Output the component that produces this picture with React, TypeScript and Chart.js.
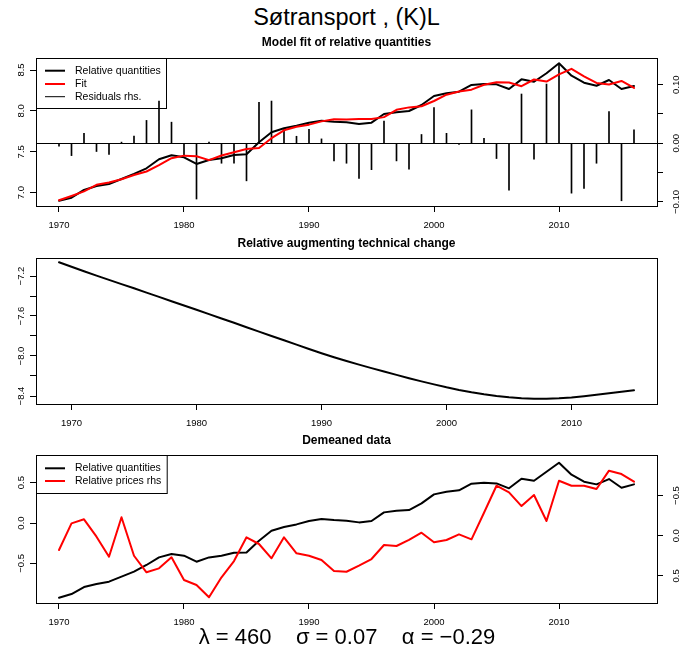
import React, { useEffect, useRef } from "react";
import { Chart, registerables } from "chart.js";
Chart.register(...registerables);

const FONT = '"Liberation Sans", Arial, Helvetica, sans-serif';

// ---------- data ----------
const years = [
  1970, 1971, 1972, 1973, 1974, 1975, 1976, 1977, 1978, 1979,
  1980, 1981, 1982, 1983, 1984, 1985, 1986, 1987, 1988, 1989,
  1990, 1991, 1992, 1993, 1994, 1995, 1996, 1997, 1998, 1999,
  2000, 2001, 2002, 2003, 2004, 2005, 2006, 2007, 2008, 2009,
  2010, 2011, 2012, 2013, 2014, 2015, 2016,
];
const relQuantities = [
  6.902, 6.939, 7.033, 7.082, 7.106, 7.167, 7.229, 7.298, 7.408, 7.457,
  7.433, 7.351, 7.4, 7.42, 7.461, 7.469, 7.616, 7.738, 7.787, 7.819,
  7.856, 7.88, 7.868, 7.86, 7.84, 7.856, 7.962, 7.983, 7.999, 8.072,
  8.182, 8.215, 8.235, 8.317, 8.329, 8.325, 8.268, 8.386, 8.357, 8.46,
  8.582, 8.43, 8.345, 8.308, 8.378, 8.268, 8.304,
];
const fitValues = [
  6.907, 6.96, 7.016, 7.096, 7.125, 7.165, 7.216, 7.259, 7.336, 7.421,
  7.453, 7.446, 7.398, 7.454, 7.495, 7.533, 7.546, 7.666, 7.763, 7.807,
  7.832, 7.872, 7.898, 7.894, 7.9, 7.901, 7.924, 8.013, 8.043, 8.057,
  8.121, 8.198, 8.237, 8.26, 8.32, 8.351, 8.348, 8.302, 8.384, 8.359,
  8.446, 8.515, 8.422, 8.342, 8.324, 8.366, 8.281,
];
const residuals = [
  -0.005, -0.021, 0.017, -0.014, -0.019, 0.002, 0.0125, 0.039, 0.072, 0.036,
  -0.02, -0.095, 0.002, -0.034, -0.034, -0.064, 0.07, 0.072, 0.024, 0.012,
  0.024, 0.0075, -0.03, -0.034, -0.06, -0.045, 0.038, -0.03, -0.044, 0.015,
  0.061, 0.017, -0.002, 0.057, 0.0085, -0.026, -0.08, 0.084, -0.027, 0.101,
  0.136, -0.085, -0.077, -0.034, 0.054, -0.098, 0.023,
];
const techYears = [
  1969, 1970, 1971, 1972, 1973, 1974, 1975, 1976, 1977, 1978, 1979,
  1980, 1981, 1982, 1983, 1984, 1985, 1986, 1987, 1988, 1989,
  1990, 1991, 1992, 1993, 1994, 1995, 1996, 1997, 1998, 1999,
  2000, 2001, 2002, 2003, 2004, 2005, 2006, 2007, 2008, 2009,
  2010, 2011, 2012, 2013, 2014, 2015,
];
const techChange = [
  -7.063, -7.108, -7.152, -7.196, -7.239, -7.281, -7.323, -7.366, -7.409, -7.452, -7.495,
  -7.538, -7.581, -7.625, -7.668, -7.712, -7.756, -7.8, -7.843, -7.886, -7.93,
  -7.972, -8.012, -8.05, -8.086, -8.121, -8.155, -8.189, -8.222, -8.254, -8.284,
  -8.313, -8.339, -8.362, -8.382, -8.399, -8.413, -8.423, -8.428, -8.428, -8.423,
  -8.414, -8.402, -8.388, -8.373, -8.358, -8.343,
];
const demeanedQuantities = [
  -0.926, -0.88, -0.793, -0.756, -0.727, -0.665, -0.603, -0.52, -0.426, -0.384,
  -0.405, -0.479, -0.426, -0.405, -0.368, -0.364, -0.219, -0.095, -0.05, -0.017,
  0.025, 0.05, 0.037, 0.029, 0.008, 0.025, 0.132, 0.153, 0.161, 0.244,
  0.355, 0.388, 0.405, 0.487, 0.5, 0.491, 0.43, 0.549, 0.524, 0.636,
  0.747, 0.599, 0.512, 0.479, 0.545, 0.437, 0.479,
];
const demeanedPrices = [
  0.178, -0.154, -0.204, 0.012, 0.261, -0.229, 0.249, 0.455, 0.406, 0.269,
  0.551, 0.613, 0.766, 0.517, 0.315, 0.02, 0.103, 0.281, 0.02, 0.219,
  0.249, 0.302, 0.439, 0.448, 0.373, 0.29, 0.116, 0.128, 0.053, -0.037,
  0.082, 0.053, -0.017, 0.045, -0.286, -0.622, -0.54, -0.369, -0.506, -0.183,
  -0.684, -0.622, -0.622, -0.581, -0.809, -0.767, -0.672,
];

// ---------- ticks ----------
const xTicks = [1970, 1980, 1990, 2000, 2010];
const xTickLabels = ["1970", "1980", "1990", "2000", "2010"];
const topLeftTicks = [7.0, 7.5, 8.0, 8.5];
const topLeftLabels = ["7.0", "7.5", "8.0", "8.5"];
const topRightTicks = [-0.1, -0.05, 0, 0.05, 0.1];
const topRightLabels = ["\u22120.10", "", "0.00", "", "0.10"];
const midTicks = [-8.4, -8.2, -8.0, -7.8, -7.6, -7.4, -7.2];
const midLabels = ["\u22128.4", "", "\u22128.0", "", "\u22127.6", "", "\u22127.2"];
const botTicks = [-0.5, 0, 0.5];
const botLeftLabels = ["\u22120.5", "0.0", "0.5"];
const botRightLabels = ["\u22120.5", "0.0", "0.5"];

const mainTitle = "Søtransport , (K)L";
const panelTitles = ["Model fit of relative quantities", "Relative augmenting technical change", "Demeaned data"];
const formulaText = "\u03bb = 460    \u03c3 = 0.07    \u03b1 = \u22120.29";

// ---------- helpers ----------
type LegendSpec = { w: number; h: number; rows: number[]; items: { label: string; color: string; width: number }[] };
type FrameSpec = {
  title: string;
  titleY: number;
  yLabels: { axis: string; cx: number }[];
  zero?: { axis: string; value: number };
  legend?: LegendSpec;
};

function makeFrame(spec: FrameSpec) {
  return {
    id: "rframe",
    beforeDatasetsDraw(chart: any) {
      const { ctx, chartArea: a } = chart;
      if (spec.zero) {
        const s = chart.scales[spec.zero.axis];
        const y = Math.round(s.getPixelForValue(spec.zero.value)) + 0.5;
        ctx.save();
        ctx.strokeStyle = "#000";
        ctx.lineWidth = 1;
        ctx.beginPath();
        ctx.moveTo(a.left, y);
        ctx.lineTo(a.right, y);
        ctx.stroke();
        ctx.restore();
      }
      if (spec.legend) {
        const L = spec.legend;
        const x0 = Math.round(a.left);
        const y0 = Math.round(a.top);
        ctx.save();
        ctx.fillStyle = "#fff";
        ctx.fillRect(x0, y0, L.w, L.h);
        ctx.strokeStyle = "#000";
        ctx.lineWidth = 1;
        ctx.strokeRect(x0 + 0.5, y0 + 0.5, L.w, L.h);
        L.items.forEach((it, i) => {
          const y = y0 + L.rows[i];
          ctx.strokeStyle = it.color;
          ctx.lineWidth = it.width;
          ctx.beginPath();
          ctx.moveTo(x0 + 9, y);
          ctx.lineTo(x0 + 29, y);
          ctx.stroke();
          ctx.fillStyle = "#000";
          ctx.font = `10.5px ${FONT}`;
          ctx.textAlign = "left";
          ctx.textBaseline = "middle";
          ctx.fillText(it.label, x0 + 39, y);
        });
        ctx.restore();
      }
    },
    afterDraw(chart: any) {
      const { ctx, chartArea: a } = chart;
      ctx.save();
      ctx.strokeStyle = "#000";
      ctx.lineWidth = 1;
      ctx.strokeRect(Math.round(a.left) + 0.5, Math.round(a.top) + 0.5, Math.round(a.right - a.left), Math.round(a.bottom - a.top));
      ctx.fillStyle = "#000";
      ctx.font = `9.5px ${FONT}`;
      ctx.textAlign = "center";
      ctx.textBaseline = "middle";
      spec.yLabels.forEach(({ axis, cx }) => {
        const s = chart.scales[axis];
        s.ticks.forEach((t: any) => {
          if (!t.label) return;
          const y = s.getPixelForValue(t.value);
          ctx.save();
          ctx.translate(cx, y);
          ctx.rotate(-Math.PI / 2);
          ctx.fillText(t.label, 0, 0);
          ctx.restore();
        });
      });
      ctx.font = `bold 12px ${FONT}`;
      ctx.fillText(spec.title, (a.left + a.right) / 2, spec.titleY);
      ctx.restore();
    },
  };
}

function xScale(min: number, max: number, h: number) {
  return {
    type: "linear",
    position: "bottom",
    min,
    max,
    offset: false,
    afterBuildTicks: (s: any) => {
      s.ticks = xTicks.map((v) => ({ value: v }));
    },
    afterFit: (s: any) => {
      s.height = h;
    },
    grid: { drawOnChartArea: false, drawTicks: true, tickLength: 6, color: "#000", offset: false },
    border: { display: false },
    ticks: {
      font: { size: 9.5, family: FONT },
      color: "#000",
      padding: 8,
      maxRotation: 0,
      minRotation: 0,
      autoSkip: false,
      callback: (_v: any, i: number) => xTickLabels[i],
    },
  };
}

function yScale(position: string, min: number, max: number, w: number, vals: number[], labels: string[], reverse = false) {
  return {
    type: "linear",
    position,
    min,
    max,
    reverse,
    afterBuildTicks: (s: any) => {
      s.ticks = vals.map((v) => ({ value: v }));
    },
    afterFit: (s: any) => {
      s.width = w;
    },
    grid: { drawOnChartArea: false, drawTicks: true, tickLength: 6, color: "#000" },
    border: { display: false },
    ticks: { display: false, autoSkip: false, callback: (_v: any, i: number) => labels[i] },
  };
}

function lineDs(label: string, xs: number[], ys: number[], color: string, order: number, axis = "y") {
  return {
    type: "line",
    label,
    data: xs.map((x, i) => ({ x, y: ys[i] })),
    borderColor: color,
    backgroundColor: color,
    borderWidth: 2,
    pointRadius: 0,
    tension: 0,
    borderJoinStyle: "round",
    borderCapStyle: "round",
    yAxisID: axis,
    order,
  };
}

function baseOptions(padTop: number, padRight: number, scales: any) {
  return {
    responsive: false,
    animation: false,
    devicePixelRatio: 1,
    layout: { padding: { top: padTop, right: padRight, left: 0, bottom: 0 } },
    plugins: { legend: { display: false }, tooltip: { enabled: false }, title: { display: false } },
    scales,
    events: [],
  };
}

function ChartCanvas({ top, height, build }: { top: number; height: number; build: () => any }) {
  const ref = useRef<HTMLCanvasElement | null>(null);
  useEffect(() => {
    if (!ref.current) return;
    const chart = new Chart(ref.current, build());
    return () => chart.destroy();
  }, []);
  return (
    <canvas
      ref={ref}
      width={680}
      height={height}
      style={{ position: "absolute", left: 0, top, width: 680, height, display: "block" }}
    />
  );
}

function buildTop() {
  return {
    type: "line",
    data: {
      datasets: [
        lineDs("Fit", years, fitValues, "#ff0000", 0),
        lineDs("Relative quantities", years, relQuantities, "#000000", 1),
        {
          type: "bar",
          label: "Residuals rhs.",
          data: years.map((x, i) => ({ x, y: residuals[i] })),
          backgroundColor: "#000",
          borderWidth: 0,
          barThickness: 1,
          grouped: false,
          yAxisID: "y2",
          order: 2,
        },
      ],
    },
    options: baseOptions(28, 0, {
      x: xScale(1968.16, 2017.84, 26),
      y: yScale("left", 6.837, 8.647, 36, topLeftTicks, topLeftLabels),
      y2: yScale("right", -0.1069, 0.1454, 23, topRightTicks, topRightLabels),
    }),
    plugins: [
      makeFrame({
        title: panelTitles[0],
        titleY: 13,
        yLabels: [
          { axis: "y", cx: 21 },
          { axis: "y2", cx: 676 },
        ],
        zero: { axis: "y2", value: 0 },
        legend: {
          w: 130,
          h: 50,
          rows: [12.7, 26, 38.7],
          items: [
            { label: "Relative quantities", color: "#000", width: 2 },
            { label: "Fit", color: "#ff0000", width: 2 },
            { label: "Residuals rhs.", color: "#000", width: 1 },
          ],
        },
      }),
    ],
  };
}

function buildMid() {
  return {
    type: "line",
    data: { datasets: [lineDs("Relative augmenting technical change", techYears, techChange, "#000000", 0)] },
    options: baseOptions(26, 23, {
      x: xScale(1967.16, 2016.84, 28),
      y: yScale("left", -8.48, -7.02, 36, midTicks, midLabels),
    }),
    plugins: [
      makeFrame({
        title: panelTitles[1],
        titleY: 11.5,
        yLabels: [{ axis: "y", cx: 21 }],
      }),
    ],
  };
}

function buildBot() {
  return {
    type: "line",
    data: {
      datasets: [
        lineDs("Relative prices rhs", years, demeanedPrices, "#ff0000", 0, "y2"),
        lineDs("Relative quantities", years, demeanedQuantities, "#000000", 1, "y"),
      ],
    },
    options: baseOptions(23, 0, {
      x: xScale(1968.16, 2017.84, 50),
      y: yScale("left", -0.991, 0.843, 36, botTicks, botLeftLabels),
      y2: yScale("right", -1.004, 0.837, 23, botTicks, botRightLabels, true),
    }),
    plugins: [
      makeFrame({
        title: panelTitles[2],
        titleY: 8.5,
        yLabels: [
          { axis: "y", cx: 21 },
          { axis: "y2", cx: 676 },
        ],
        legend: {
          w: 130.7,
          h: 38,
          rows: [13.3, 26],
          items: [
            { label: "Relative quantities", color: "#000", width: 2 },
            { label: "Relative prices rhs", color: "#ff0000", width: 2 },
          ],
        },
      }),
    ],
  };
}

export default function App() {
  return (
    <div style={{ position: "absolute", left: 0, top: 0, width: 680, height: 653, background: "#fff", overflow: "hidden" }}>
      <div
        style={{
          position: "absolute",
          left: 0,
          top: 6,
          width: 693,
          textAlign: "center",
          fontFamily: FONT,
          fontSize: 23.5,
          lineHeight: "23px",
          color: "#000",
        }}
      >
        {mainTitle}
      </div>
      <ChartCanvas top={30} height={202} build={buildTop} />
      <ChartCanvas top={232} height={200} build={buildMid} />
      <ChartCanvas top={432} height={221} build={buildBot} />
      <div
        style={{
          position: "absolute",
          left: 0,
          top: 626,
          width: 694,
          textAlign: "center",
          fontFamily: FONT,
          fontSize: 22,
          lineHeight: "22px",
          whiteSpace: "pre",
          color: "#000",
        }}
      >
        {formulaText}
      </div>
    </div>
  );
}
